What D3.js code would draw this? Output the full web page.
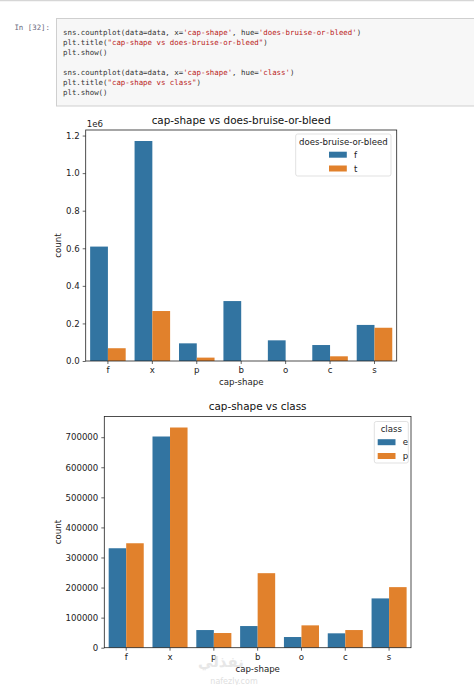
<!DOCTYPE html>
<html>
<head>
<meta charset="utf-8">
<script src="https://cdn.jsdelivr.net/npm/d3@7"></script>
<style>
  html, body { margin: 0; padding: 0; background: #fff; }
  svg { display: block; }
  .mono { font-family: "DejaVu Sans Mono", "Liberation Mono", monospace; }
  .mpl { font-family: "DejaVu Sans", sans-serif; }
</style>
</head>
<body>
<svg id="page" width="474" height="685"></svg>
<script>
  // ---- data ----
  var categories = ["f", "x", "p", "b", "o", "c", "s"];

  var bruiseKeys = ["f", "t"];
  var bruiseF = [609000, 1171000, 94000, 319000, 110000, 85000, 192000];
  var bruiseT = [68000, 266000, 18000, 0, 0, 25000, 177000];
  var bruiseTicks = [0, 200000, 400000, 600000, 800000, 1000000, 1200000];

  var classKeys = ["e", "p"];
  var classE = [330700, 702300, 58700, 72000, 35500, 47800, 163900];
  var classP = [347300, 732200, 48800, 247800, 74300, 58700, 201400];
  var classTicks = [0, 100000, 200000, 300000, 400000, 500000, 600000, 700000];

  var hueColors = ["#3274a1", "#e1812c"];

  var codeLines = [
    "sns.countplot(data=data, x='cap-shape', hue='does-bruise-or-bleed')",
    'plt.title("cap-shape vs does-bruise-or-bleed")',
    "plt.show()",
    "",
    "sns.countplot(data=data, x='cap-shape', hue='class')",
    'plt.title("cap-shape vs class")',
    "plt.show()"
  ];

  var svg = d3.select("#page");

  // ---- notebook cell ----
  svg.append("line")
    .attr("x1", 0).attr("x2", 474).attr("y1", 0.5).attr("y2", 0.5)
    .attr("stroke", "#d6d6d6").attr("stroke-width", 1.5);

  svg.append("rect")
    .attr("x", 56.5).attr("y", 18.5).attr("width", 430).attr("height", 87.5)
    .attr("fill", "#f7f7f7").attr("stroke", "#cfcfcf").attr("stroke-width", 1);

  svg.append("text")
    .attr("class", "mono")
    .attr("x", 50).attr("y", 30)
    .attr("text-anchor", "end")
    .attr("font-size", 7.4)
    .attr("fill", "#6b6b80")
    .text("In [32]:");

  var code = svg.append("g").attr("class", "mono").attr("font-size", 7.4);
  codeLines.forEach(function(line, i) {
    var t = code.append("text")
      .attr("x", 63).attr("y", 34.5 + i * 10)
      .attr("xml:space", "preserve");
    line.split(/('[^']*'|"[^"]*")/).forEach(function(part) {
      if (!part) return;
      t.append("tspan")
        .attr("fill", /^['"]/.test(part) ? "#ba2121" : "#333")
        .text(part);
    });
  });

  // ---- one seaborn-like countplot ----
  function countplot(cfg) {
    var g = svg.append("g").attr("class", "mpl");
    var x0 = cfg.left, x1 = cfg.right, y0 = cfg.top, y1 = cfg.bottom;

    var rows = categories.map(function(c, i) {
      return { cat: c, vals: cfg.series.map(function(s) { return s[i]; }) };
    });
    var ymax = d3.max(rows, function(r) { return d3.max(r.vals); }) * 1.05;

    var x = d3.scaleBand().domain(categories).range([x0, x1])
      .paddingInner(0.2).paddingOuter(0.1);
    var xh = d3.scaleBand().domain(cfg.keys).range([0, x.bandwidth()]);
    var y = d3.scaleLinear().domain([0, ymax]).range([y1, y0]);

    g.append("g").selectAll("g")
      .data(rows)
      .enter().append("g")
        .attr("transform", function(d) { return "translate(" + x(d.cat) + ",0)"; })
      .selectAll("rect")
      .data(function(d) { return d.vals; })
      .enter().append("rect")
        .attr("x", function(d, i) { return xh(cfg.keys[i]); })
        .attr("width", xh.bandwidth())
        .attr("y", function(d) { return y(d); })
        .attr("height", function(d) { return y1 - y(d); })
        .attr("fill", function(d, i) { return hueColors[i]; });

    // axes
    var ax = g.append("g")
      .attr("transform", "translate(0," + y1 + ")")
      .call(d3.axisBottom(x).tickSize(3).tickPadding(3));
    var ay = g.append("g")
      .attr("transform", "translate(" + x0 + ",0)")
      .call(d3.axisLeft(y).tickValues(cfg.ticks).tickFormat(cfg.fmt).tickSize(3).tickPadding(3));
    [ax, ay].forEach(function(a) {
      a.select(".domain").remove();
      a.selectAll(".tick line").attr("stroke", "#222").attr("stroke-width", 0.7);
      a.selectAll(".tick text").attr("font-family", "DejaVu Sans, sans-serif")
        .attr("font-size", 8.6).attr("fill", "#222");
    });

    // spines
    g.append("rect")
      .attr("x", x0).attr("y", y0).attr("width", x1 - x0).attr("height", y1 - y0)
      .attr("fill", "none").attr("stroke", "#222").attr("stroke-width", 0.8);

    // titles and labels
    g.append("text")
      .attr("x", (x0 + x1) / 2).attr("y", y0 - 6.5)
      .attr("text-anchor", "middle").attr("font-size", 10.4).attr("fill", "#111")
      .text(cfg.title);
    g.append("text")
      .attr("x", (x0 + x1) / 2).attr("y", y1 + 24)
      .attr("text-anchor", "middle").attr("font-size", 8.6).attr("fill", "#222")
      .text("cap-shape");
    g.append("text")
      .attr("transform", "translate(" + cfg.ylabelX + "," + ((y0 + y1) / 2) + ") rotate(-90)")
      .attr("text-anchor", "middle").attr("font-size", 8.6).attr("fill", "#222")
      .text("count");
    if (cfg.offset) {
      g.append("text")
        .attr("x", x0 + 1).attr("y", y0 - 3)
        .attr("font-size", 8.6).attr("fill", "#222")
        .text(cfg.offset);
    }

    // legend
    var L = cfg.legend;
    var lg = g.append("g");
    lg.append("rect")
      .attr("x", L.x).attr("y", L.y).attr("width", L.w).attr("height", L.h)
      .attr("rx", 2).attr("fill", "#fff")
      .attr("stroke", "#d9d9d9").attr("stroke-width", 0.8);
    lg.append("text")
      .attr("x", L.x + L.w / 2).attr("y", L.y + 10.5)
      .attr("text-anchor", "middle").attr("font-size", 8.6).attr("fill", "#222")
      .text(cfg.legendTitle);
    cfg.keys.forEach(function(k, i) {
      var cy = L.y + 20.7 + i * 13.8;
      lg.append("rect")
        .attr("x", L.px).attr("y", cy - 3).attr("width", 17.8).attr("height", 6)
        .attr("fill", hueColors[i]);
      lg.append("text")
        .attr("x", L.px + 25).attr("y", cy + 3)
        .attr("font-size", 8.6).attr("fill", "#222")
        .text(k);
    });
  }

  countplot({
    left: 85.7, right: 396.7, top: 130, bottom: 361,
    keys: bruiseKeys, series: [bruiseF, bruiseT],
    ticks: bruiseTicks, fmt: function(d) { return (d / 1e6).toFixed(1); },
    offset: "1e6",
    title: "cap-shape vs does-bruise-or-bleed",
    legendTitle: "does-bruise-or-bleed",
    ylabelX: 60.5,
    legend: { x: 295.7, y: 134, w: 95.3, h: 42, px: 329 }
  });

  countplot({
    left: 104.3, right: 411, top: 416.5, bottom: 647.7,
    keys: classKeys, series: [classE, classP],
    ticks: classTicks, fmt: d3.format("d"),
    title: "cap-shape vs class",
    legendTitle: "class",
    ylabelX: 60.5,
    legend: { x: 374.3, y: 421.5, w: 34, h: 41.5, px: 377.7 }
  });

  // faint site watermark
  svg.append("text")
    .attr("x", 221).attr("y", 667)
    .attr("text-anchor", "middle")
    .attr("font-family", "DejaVu Sans, sans-serif")
    .attr("font-size", 15).attr("font-weight", "bold")
    .attr("fill", "#e2e2e2").attr("opacity", 0.8)
    .text("نفذلي");
  svg.append("text")
    .attr("x", 234).attr("y", 684)
    .attr("text-anchor", "middle")
    .attr("font-family", "DejaVu Sans, sans-serif")
    .attr("font-size", 8)
    .attr("fill", "#e0e0e0")
    .text("nafezly.com");
</script>
</body>
</html>
